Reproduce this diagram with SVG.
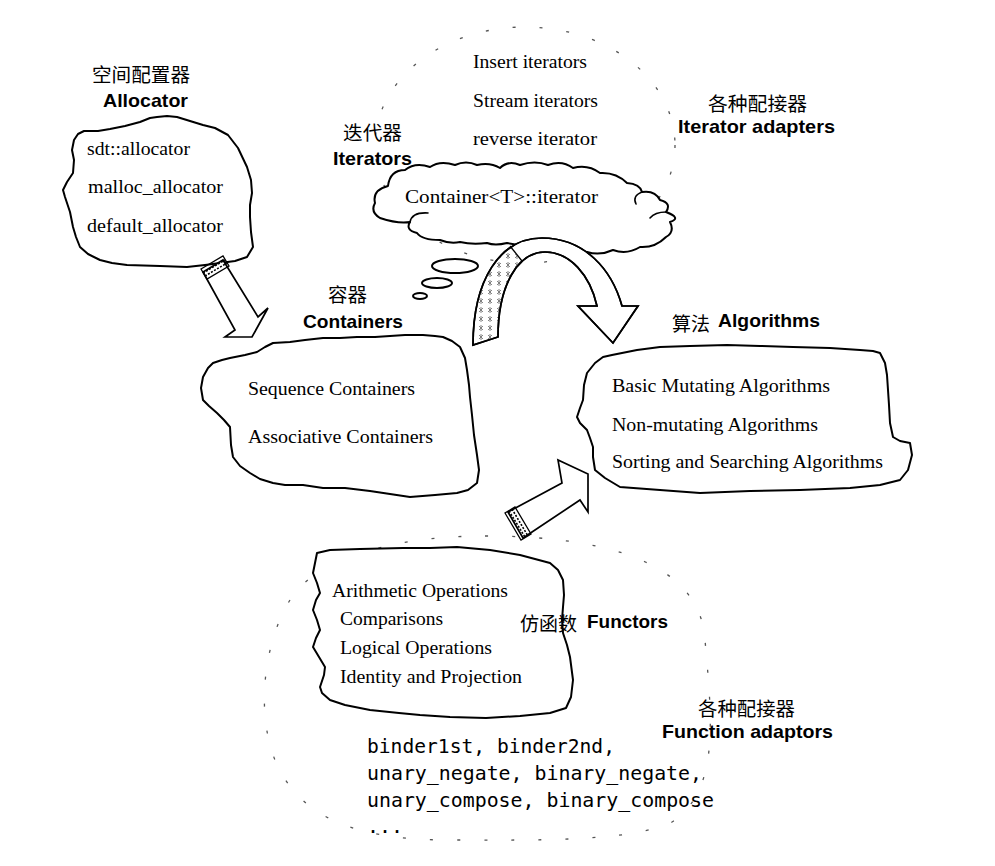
<svg xmlns="http://www.w3.org/2000/svg" width="995" height="866" viewBox="0 0 995 866">
<style>
.cloud{fill:#fff;stroke:#000;stroke-width:2;stroke-linejoin:round}
.curl{fill:none;stroke:#000;stroke-width:1.6;stroke-linecap:round}
.oval{fill:none;stroke:#555;stroke-width:1.3;stroke-dasharray:3 24}
.serif{font-family:"Liberation Serif","Times New Roman",serif;font-size:19px;fill:#000}
.bold{font-family:"Liberation Sans",Arial,sans-serif;font-weight:bold;font-size:19px;fill:#000}
.cjk{font-family:"Liberation Sans","Noto Sans CJK SC","Noto Sans CJK JP",sans-serif;font-size:19.5px;fill:#000}
.mono{font-family:"DejaVu Sans Mono","Liberation Mono",monospace;font-size:20px;fill:#000}
.arrow{fill:#fff;stroke:#000;stroke-width:1.7;stroke-linejoin:miter}
.band{fill:none;stroke:#000;stroke-width:1.3}
.bandd{fill:none;stroke:#000;stroke-width:1.6;stroke-dasharray:2 1.5}
</style>
<defs>
<pattern id="hatch" width="9" height="9" patternUnits="userSpaceOnUse">
<path d="M2,2 L6,6 M6,2 L2,6 M4,1 L4,7" stroke="#777" stroke-width="0.9" fill="none"/>
</pattern>
<clipPath id="arcclip">
<path d="M473,345 C473,280 500,238 542,238 C585,238 612,270 622,306 L638,306 L613,343 L578,306 L597,306 C590,275 570,252 545,252 C518,252 498,285 498,337 Z"/>
</clipPath>
</defs>
<rect width="995" height="866" fill="#fff"/>

<g id="iterator-adapters">
<ellipse class="oval" cx="525" cy="145" rx="150" ry="118"/>
<text class="serif" x="473" y="68" textLength="114" lengthAdjust="spacingAndGlyphs">Insert iterators</text>
<text class="serif" x="473" y="107" textLength="125" lengthAdjust="spacingAndGlyphs">Stream iterators</text>
<text class="serif" x="473" y="145" textLength="124" lengthAdjust="spacingAndGlyphs">reverse iterator</text>
<text class="cjk" x="708" y="111" textLength="99" lengthAdjust="spacingAndGlyphs">各种配接器</text>
<text class="bold" x="678" y="133" textLength="157" lengthAdjust="spacingAndGlyphs">Iterator adapters</text>
</g>

<g id="function-adaptors">
<path class="oval" d="M485,536 C600,536 700,560 705,640 C712,720 720,790 672,822 C630,842 540,840 450,840 C360,840 300,820 275,760 C255,710 265,640 290,600 C310,565 380,536 485,536 Z"/>
<text class="cjk" x="698" y="716" textLength="97" lengthAdjust="spacingAndGlyphs">各种配接器</text>
<text class="bold" x="662" y="738" textLength="171" lengthAdjust="spacingAndGlyphs">Function adaptors</text>
<text class="mono" x="367" y="753" textLength="248" lengthAdjust="spacingAndGlyphs">binder1st, binder2nd,</text>
<text class="mono" x="367" y="780" textLength="335" lengthAdjust="spacingAndGlyphs">unary_negate, binary_negate,</text>
<text class="mono" x="367" y="807" textLength="347" lengthAdjust="spacingAndGlyphs">unary_compose, binary_compose</text>
<text class="mono" x="367" y="833">...</text>
</g>

<g id="allocator">
<text class="cjk" x="92" y="82" textLength="98" lengthAdjust="spacingAndGlyphs">空间配置器</text>
<text class="bold" x="103" y="107" textLength="85" lengthAdjust="spacingAndGlyphs">Allocator</text>
<path class="cloud" d="M72,150 L74,140 L78,134 L84,131 L98,131 L110,129 L125,126 L140,122 L150,118 L157,117 L167,116 L177,117 L190,121 L203,125 L215,128 L228,135 L238,148 L247,167 L251,180 L252,193 L250,205 L250,217 L251,232 L253,247 L247,257 L235,261 L220,263 L205,265 L187,267 L160,266 L127,265 L112,263 L100,260 L88,254 L80,247 L76,237 L73,227 L70,212 L65,197 L63,190 L67,182 L73,173 L74,160 Z"/>
<text class="serif" x="87" y="155" textLength="103" lengthAdjust="spacingAndGlyphs">sdt::allocator</text>
<text class="serif" x="88" y="193" textLength="135" lengthAdjust="spacingAndGlyphs">malloc_allocator</text>
<text class="serif" x="87" y="232" textLength="136" lengthAdjust="spacingAndGlyphs">default_allocator</text>
</g>

<g id="iterators">
<text class="cjk" x="343" y="140" textLength="59" lengthAdjust="spacingAndGlyphs">迭代器</text>
<text class="bold" x="333" y="165" textLength="79" lengthAdjust="spacingAndGlyphs">Iterators</text>
<path class="cloud" d="M375,203 Q372,190 388,186 Q390,170 405,170 Q415,162 430,167 Q440,160 455,165 Q466,160 477,165 Q490,162 500,168 Q508,160 520,165 Q535,160 548,165 Q562,160 573,168 Q588,164 600,173 Q616,172 627,183 Q640,184 642,192 Q655,190 660,200 Q672,203 666,212 Q682,218 670,222 Q675,232 666,237 Q655,248 640,247 Q627,255 613,250 Q600,256 587,252 L560,250 Q535,248 507,243 Q495,246 487,243 Q472,245 460,242 Q450,244 440,240 Q422,240 417,233 Q405,230 410,222 Q398,224 380,218 Q370,212 375,203 Z"/>
<path class="curl" d="M410,222 Q412,212 428,213"/>
<path class="curl" d="M642,192 Q632,196 636,204"/>
<path class="curl" d="M666,212 Q655,212 650,218"/>
<text class="serif" x="405" y="203" textLength="193" lengthAdjust="spacingAndGlyphs">Container&lt;T&gt;::iterator</text>
<ellipse class="cloud" cx="455" cy="266" rx="23" ry="7" stroke-width="1.8"/>
<ellipse class="cloud" cx="437" cy="283" rx="15" ry="5" stroke-width="1.8"/>
<ellipse class="cloud" cx="420" cy="296" rx="7" ry="3" stroke-width="1.6"/>
</g>

<g id="containers">
<text class="cjk" x="328" y="302" textLength="39" lengthAdjust="spacingAndGlyphs">容器</text>
<text class="bold" x="303" y="328" textLength="100" lengthAdjust="spacingAndGlyphs">Containers</text>
<path class="cloud" d="M203,377 L208,368 L213,363 L222,360 L230,358 L245,355 L257,352 L265,347 L273,343 L290,342 L305,340 L323,338 L340,338 L357,337 L375,337 L390,336 L405,335 L423,335 L435,336 L443,337 L452,341 L460,347 L465,358 L467,370 L469,385 L470,397 L472,415 L474,435 L477,455 L479,470 L477,483 L468,490 L457,493 L435,495 L410,497 L390,494 L370,491 L345,488 L323,488 L303,485 L285,485 L273,483 L260,479 L250,473 L240,466 L233,457 L231,445 L230,427 L224,420 L217,413 L209,406 L203,400 L201,388 Z"/>
<text class="serif" x="248" y="395" textLength="167" lengthAdjust="spacingAndGlyphs">Sequence Containers</text>
<text class="serif" x="248" y="443" textLength="185" lengthAdjust="spacingAndGlyphs">Associative Containers</text>
</g>

<g id="algorithms">
<text class="cjk" x="672" y="331" textLength="38" lengthAdjust="spacingAndGlyphs">算法</text>
<text class="bold" x="718" y="327" textLength="102" lengthAdjust="spacingAndGlyphs">Algorithms</text>
<path class="cloud" d="M603,357 L612,355 L627,352 L637,350 L660,347 L690,346 L727,345 L760,346 L793,347 L830,348 L860,350 L873,351 L880,353 L885,363 L887,375 L888,390 L889,405 L890,423 L893,437 L900,441 L910,443 L912,455 L908,470 L900,480 L880,485 L850,488 L800,490 L750,491 L700,493 L660,490 L620,487 L605,478 L595,470 L593,457 L593,447 L590,438 L587,430 L580,423 L577,417 L580,408 L583,400 L584,385 L587,373 L595,363 Z"/>
<text class="serif" x="612" y="392" textLength="218" lengthAdjust="spacingAndGlyphs">Basic Mutating Algorithms</text>
<text class="serif" x="612" y="431" textLength="206" lengthAdjust="spacingAndGlyphs">Non-mutating Algorithms</text>
<text class="serif" x="612" y="468" textLength="271" lengthAdjust="spacingAndGlyphs">Sorting and Searching Algorithms</text>
</g>

<g id="functors">
<path class="cloud" d="M317,553 L330,550 L360,549 L403,548 L430,548 L457,547 L490,550 L520,555 L550,563 L558,570 L563,580 L564,595 L563,607 L562,620 L563,633 L567,645 L570,657 L573,680 L571,697 L566,708 L550,713 L520,716 L486,718 L450,717 L420,715 L399,713 L370,710 L345,705 L330,700 L322,693 L320,687 L324,675 L325,667 L319,657 L313,647 L316,638 L320,630 L317,620 L313,610 L316,600 L320,593 L317,583 L313,573 L315,563 Z"/>
<text class="serif" x="332" y="597" textLength="176" lengthAdjust="spacingAndGlyphs">Arithmetic Operations</text>
<text class="serif" x="340" y="625" textLength="103" lengthAdjust="spacingAndGlyphs">Comparisons</text>
<text class="serif" x="340" y="654" textLength="152" lengthAdjust="spacingAndGlyphs">Logical Operations</text>
<text class="serif" x="340" y="683" textLength="182" lengthAdjust="spacingAndGlyphs">Identity and Projection</text>
<text class="cjk" x="520" y="631" textLength="57" lengthAdjust="spacingAndGlyphs">仿函数</text>
<text class="bold" x="587" y="628" textLength="81" lengthAdjust="spacingAndGlyphs">Functors</text>
</g>

<g id="connectors">
<g id="allocator-to-containers">
<path class="arrow" d="M203,272 L235,330 L225,337 L252,337 L268,308 L258,317 L223,260 Z"/>
<path class="band" d="M201,269 L223,256 L229,266 L207,279 Z"/>
<path class="bandd" d="M203,273 L225,260 M205,276 L227,263"/>
</g>
<g id="iterators-to-algorithms">
<path class="arrow" d="M473,345 C473,280 500,238 542,238 C585,238 612,270 622,306 L638,306 L613,343 L578,306 L597,306 C590,275 570,252 545,252 C518,252 498,285 498,337 Z"/>
<polygon points="440,360 440,200 475,200 550,300 550,360" fill="url(#hatch)" clip-path="url(#arcclip)"/>
<path class="band" d="M510,246 L522,261"/>
<path fill="none" stroke="#000" stroke-width="1.7" d="M473,345 C473,280 500,238 542,238 C585,238 612,270 622,306 L638,306 L613,343 L578,306 L597,306 C590,275 570,252 545,252 C518,252 498,285 498,337 Z"/>
</g>
<g id="functors-to-algorithms">
<path class="arrow" d="M508,512 L562,483 L558,460 L588,474 L588,512 L580,500 L523,538 Z"/>
<path class="band" d="M505,513 L521,540 L531,534 L515,507 Z"/>
<path class="bandd" d="M509,511 L525,537 M512,509 L528,536"/>
</g>
</g>
</svg>
